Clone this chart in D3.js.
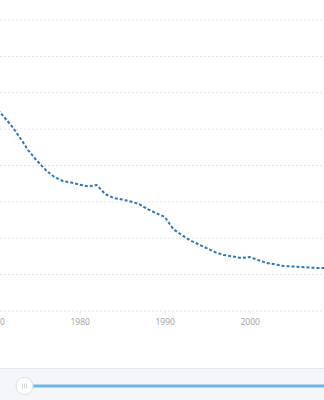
<!DOCTYPE html>
<html><head><meta charset="utf-8">
<script src="https://cdn.jsdelivr.net/npm/d3@7"></script>
<style>html,body{margin:0;padding:0;background:#fff;overflow:hidden}svg{display:block}</style>
</head><body>
<svg id="c" width="324" height="400"></svg>
<script>
const years = d3.range(1970, 2010);
const values = [112.7,107.2,101.7,95.1,88.0,82.5,77.5,73.7,71.5,70.7,
  69.5,68.5,69.3,64.3,62.1,61.3,60.2,58.8,56.0,53.8,
  51.7,45.1,41.8,38.8,36.6,34.4,32.2,30.8,30.0,29.1,
  29.7,28.0,26.4,25.6,24.7,24.5,24.2,23.9,23.6,23.6];
const yTicks = [0,20,40,60,80,100,120,140,160];
const xTicks = [1970,1980,1990,2000];

const svg = d3.select('#c');
const x = d3.scaleLinear().domain([1980, 2000]).range([79.7, 249.7]);
const y = d3.scaleLinear().domain([0, 160]).range([311, 20]);

// gridlines
svg.append('g').selectAll('line').data(yTicks).join('line')
  .attr('x1', 0).attr('x2', 324)
  .attr('y1', d => y(d)).attr('y2', d => y(d))
  .attr('stroke', '#e3e3e3').attr('stroke-width', 1)
  .attr('stroke-dasharray', '2,2');

// x axis
const xa = svg.append('g').attr('transform', 'translate(0,311)')
  .call(d3.axisBottom(x).tickValues(xTicks).tickFormat(d3.format('d')).tickSize(3).tickPadding(5));
xa.select('.domain').remove();
xa.selectAll('line').attr('stroke', '#e3e3e3');
xa.selectAll('text').attr('fill', '#a0a0a0').style('font-family', 'Open Sans, sans-serif').style('font-size', '8.5px');

// line
const line = d3.line().x((d, i) => x(years[i])).y(d => y(d));
svg.append('path').datum(values).attr('d', line)
  .attr('fill', 'none').attr('stroke', '#2f77b7').attr('stroke-width', 2)
  .attr('stroke-dasharray', '3,2');

// slider band
svg.append('rect').attr('x', 0).attr('y', 368).attr('width', 324).attr('height', 32).attr('fill', '#f4f6f9');
svg.append('line').attr('x1', 0).attr('x2', 324).attr('y1', 368.5).attr('y2', 368.5).attr('stroke', '#e4e8ee');
svg.append('rect').attr('x', 30).attr('y', 384.5).attr('width', 294).attr('height', 3).attr('fill', '#6cb6ea');
svg.append('circle').attr('cx', 24.5).attr('cy', 386).attr('r', 8.5).attr('fill', '#fff').attr('stroke', '#dde2e8');
[-2, 0, 2].forEach(o => svg.append('line').attr('x1', 24.5 + o).attr('x2', 24.5 + o).attr('y1', 383.5).attr('y2', 388.5).attr('stroke', '#c8cdd3').attr('stroke-width', 0.8));
</script>
</body></html>
